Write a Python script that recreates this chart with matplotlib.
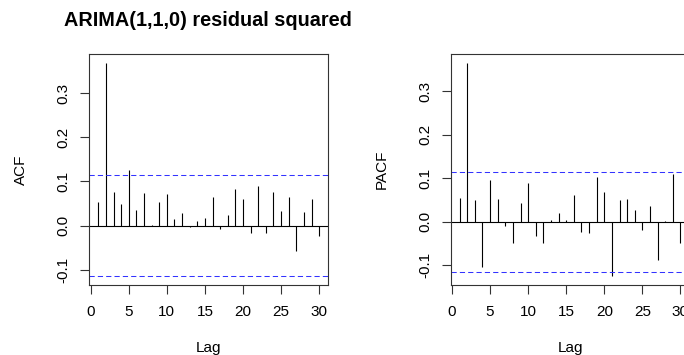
import numpy as np
import matplotlib
matplotlib.use("Agg")
import matplotlib.pyplot as plt

plt.rcParams["font.family"] = ["Liberation Sans", "DejaVu Sans"]

# ラグ 1..30
lags = np.arange(1, 31)

# ACF of squared residuals
acf_vals = [0.054, 0.368, 0.076, 0.050, 0.126, 0.036, 0.074, 0.001, 0.054, 0.072,
            0.015, 0.029, -0.004, 0.010, 0.018, 0.065, -0.008, 0.023, 0.082, 0.061,
            -0.017, 0.089, -0.016, 0.077, 0.033, 0.065, -0.057, 0.032, 0.061, -0.023]

# PACF
pacf_vals = [0.054, 0.365, 0.049, -0.104, 0.095, 0.053, -0.010, -0.048, 0.043, 0.088,
             -0.033, -0.050, 0.005, 0.019, 0.003, 0.061, -0.024, -0.027, 0.102, 0.069,
             -0.126, 0.049, 0.052, 0.026, -0.020, 0.036, -0.088, 0.002, 0.109, -0.048]

ci = 0.115  # 95% band
xticks = [0, 5, 10, 15, 20, 25, 30]
yticks = [-0.1, 0.0, 0.1, 0.2, 0.3]

title_fontsize = 14.3
tick_fontsize = 11
label_fontsize = 11


def r_range(lo, hi):
    # R の軸範囲は4%拡張
    pad = (hi - lo) * 0.04
    return lo - pad, hi + pad


def draw_panel(ax, vals, ylabel):
    vals = np.asarray(vals)
    ax.vlines(lags, 0, vals, color="black", lw=0.8)
    ax.axhline(0, color="black", lw=0.8)
    for c in (ci, -ci):
        ax.axhline(c, color="#3333ff", lw=0.75, linestyle=(0, (5, 3)))
    ax.set_xlim(*r_range(lags.min(), lags.max()))
    ax.set_ylim(*r_range(min(vals.min(), -ci), max(vals.max(), ci)))
    ax.set_xticks(xticks)
    ax.set_yticks(yticks)
    ax.set_yticklabels([f"{v:.1f}" for v in yticks], rotation=90, va="center")
    ax.tick_params(axis="both", labelsize=tick_fontsize, length=6.5, width=0.8,
                   color="#333333", direction="out")
    ax.tick_params(axis="x", pad=8)
    ax.tick_params(axis="y", pad=7)
    for sp in ax.spines.values():
        sp.set_linewidth(0.8)
        sp.set_color("#333333")
    ax.set_xlabel("Lag", fontsize=label_fontsize)
    ax.set_ylabel(ylabel, fontsize=label_fontsize)
    ax.xaxis.set_label_coords(0.5, -0.273)
    ax.xaxis.label.set_va("center")
    ax.yaxis.set_label_coords(-0.288, 0.5)
    ax.yaxis.label.set_va("center")


fig = plt.figure(figsize=(6.84, 3.55), dpi=100)
ax1 = fig.add_axes([0.1308, 0.1972, 0.3487, 0.6493])
ax2 = fig.add_axes([0.659, 0.1972, 0.3487, 0.6493])

draw_panel(ax1, acf_vals, "ACF")
draw_panel(ax2, pacf_vals, "PACF")

fig.text(208 / 684, 1 - 20 / 355, "ARIMA(1,1,0) residual squared",
         fontsize=title_fontsize, fontweight="bold", ha="center", va="center")

fig.savefig("out.png", dpi=100)
plt.close(fig)
